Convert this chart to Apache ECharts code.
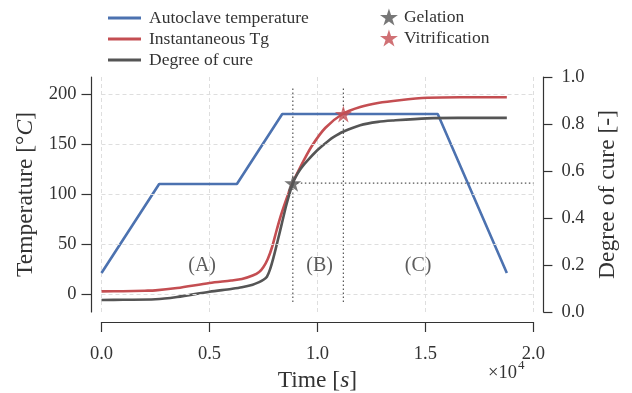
<!DOCTYPE html>
<html>
<head>
<meta charset="utf-8">
<script src="https://cdn.jsdelivr.net/npm/echarts@6/dist/echarts.min.js"></script>
<style>html,body{margin:0;padding:0;background:#fff}#c{width:632px;height:393px}</style>
</head>
<body>
<div id="c"></div>
<script>
// ---- data ----
const timeAutoclave = [0, 2670, 6270, 8370, 15570, 18770];
const tempAutoclave = [21, 110, 110, 180, 180, 21];

const timeTg = [0, 1000, 2000, 2500, 3500, 5000, 6000, 6500, 7000, 7300, 7500, 7700, 7900, 8100, 8300, 8500, 8700, 8860, 9000, 9350, 9770, 10360, 11160, 11980, 12800, 13800, 15100, 16600, 18770];
const tgValues = [2.6, 2.8, 3.3, 3.6, 6, 11, 13.5, 15, 18.5, 22, 27, 35, 47, 63, 78, 91, 103, 111.6, 118, 133, 149, 166, 180, 187, 191, 193.8, 196.2, 196.8, 196.8];

const timeCure = [0, 1000, 2500, 3500, 5000, 6000, 6500, 7000, 7300, 7500, 7660, 7800, 7960, 8150, 8350, 8550, 8700, 8860, 9000, 9200, 9400, 9620, 9900, 10200, 10500, 10740, 11160, 11980, 12800, 13520, 15070, 16500, 18770];
const cureValues = [0.051, 0.052, 0.054, 0.064, 0.086, 0.098, 0.105, 0.116, 0.127, 0.137, 0.15, 0.18, 0.23, 0.30, 0.376, 0.452, 0.502, 0.548, 0.576, 0.606, 0.63, 0.653, 0.68, 0.705, 0.728, 0.744, 0.766, 0.795, 0.809, 0.815, 0.824, 0.826, 0.826];

const gelation = [8860, 0.548];      // time, degree of cure
const vitrification = [11200, 180];  // time, temperature
const regionLabels = ['(A)', '(B)', '(C)'];
const regionTimes = [4660, 10100, 14660];
const regionTemp = 28;

const tempTicks = [0, 50, 100, 150, 200];
const tempMin = -18, tempMax = 217;
const phaseLineTemp = [-8, 207];
const timeEnd = 20000;

// ---- chart ----
const FONT = "'Liberation Serif','DejaVu Serif',serif";
const TXT = '#333333';
const zip = (a, b) => a.map((v, i) => [v, b[i]]);
const STAR = 'path://M50,0 L61.2,34.5 L97.6,34.5 L68.2,55.9 L79.4,90.5 L50,69.1 L20.6,90.5 L31.8,55.9 L2.4,34.5 L38.8,34.5 Z';
const dotted = {color: '#555', width: 1.2, type: [1.5, 2.5]};
const TICKFS = 18.5, NAMEFS = 23.5;

const chart = echarts.init(document.getElementById('c'), null, {renderer: 'canvas'});
chart.setOption({
  animation: false,
  textStyle: {fontFamily: FONT},
  grid: {left: 101.5, right: 98.6, top: 77, bottom: 81, containLabel: false, outerBoundsMode: 'none'},
  legend: [
    {
      data: ['Autoclave temperature', 'Instantaneous Tg', 'Degree of cure'],
      orient: 'vertical', left: 103, top: 4,
      icon: 'rect', itemWidth: 33, itemHeight: 3, itemGap: 3,
      textStyle: {fontFamily: FONT, fontSize: 17.5, color: TXT, lineHeight: 16, padding: [0, 0, 0, 3]}
    },
    {
      data: ['Gelation', 'Vitrification'],
      orient: 'vertical', left: 375, top: 3,
      itemWidth: 18, itemHeight: 17, itemGap: 3,
      textStyle: {fontFamily: FONT, fontSize: 17.5, color: TXT, lineHeight: 16, padding: [0, 0, 0, 1]}
    }
  ],
  xAxis: {
    type: 'value', min: 0, max: timeEnd, interval: 5000, offset: 10,
    axisLine: {onZero: false, lineStyle: {color: '#333', width: 1.2}},
    axisTick: {length: 10, lineStyle: {color: '#333', width: 1.2}},
    axisLabel: {fontFamily: FONT, fontSize: TICKFS, color: TXT, margin: 23,
      formatter: v => (v / 10000).toFixed(1)},
    splitLine: {show: true, lineStyle: {color: '#dedede', type: [4, 3], width: 1}},
    name: '{n|Time [}{i|s}{n|]}', nameLocation: 'middle', nameGap: 46,
    nameTextStyle: {rich: {
      n: {fontFamily: FONT, fontSize: NAMEFS, color: TXT},
      i: {fontFamily: FONT, fontSize: NAMEFS, color: TXT, fontStyle: 'italic'}
    }}
  },
  yAxis: [
    {
      type: 'value', min: tempMin, max: tempMax, offset: 10, position: 'left',
      axisLine: {onZero: false, lineStyle: {color: '#333', width: 1.2}},
      axisTick: {length: 10, customValues: tempTicks, lineStyle: {color: '#333', width: 1.2}},
      axisLabel: {customValues: tempTicks, fontFamily: FONT, fontSize: TICKFS, color: TXT, margin: 15},
      splitLine: {show: false},
      name: '{n|Temperature [°}{i|C}{n|]}', nameLocation: 'middle', nameRotate: 90, nameGap: 54,
      nameTextStyle: {rich: {
        n: {fontFamily: FONT, fontSize: NAMEFS, color: TXT},
        i: {fontFamily: FONT, fontSize: NAMEFS, color: TXT, fontStyle: 'italic'}
      }}
    },
    {
      type: 'value', min: 0, max: 1, interval: 0.2, offset: 10, position: 'right',
      axisLine: {onZero: false, lineStyle: {color: '#333', width: 1.2}},
      axisTick: {length: 9, lineStyle: {color: '#333', width: 1.2}},
      axisLabel: {fontFamily: FONT, fontSize: TICKFS, color: TXT, margin: 18, formatter: v => v.toFixed(1)},
      splitLine: {show: false},
      name: 'Degree of cure [-]', nameLocation: 'middle', nameRotate: 90, nameGap: 44,
      nameTextStyle: {fontFamily: FONT, fontSize: NAMEFS, color: TXT}
    }
  ],
  series: [
    {
      name: 'grid', type: 'line', data: [], z: 0, silent: true,
      markLine: {silent: true, symbol: 'none', label: {show: false},
        lineStyle: {color: '#dedede', type: [4, 3], width: 1},
        data: tempTicks.map(v => ({yAxis: v}))}
    },
    {
      name: 'Autoclave temperature', type: 'line', yAxisIndex: 0, z: 3,
      data: zip(timeAutoclave, tempAutoclave), showSymbol: false, symbol: 'none',
      lineStyle: {color: '#4C72B0', width: 2.6}, itemStyle: {color: '#4C72B0'}
    },
    {
      name: 'Instantaneous Tg', type: 'line', yAxisIndex: 0, z: 4,
      data: zip(timeTg, tgValues), showSymbol: false, symbol: 'none', smooth: 0.3,
      lineStyle: {color: '#C44E52', width: 2.6}, itemStyle: {color: '#C44E52'}
    },
    {
      name: 'Degree of cure', type: 'line', yAxisIndex: 1, z: 4,
      data: zip(timeCure, cureValues), showSymbol: false, symbol: 'none', smooth: 0.3,
      lineStyle: {color: '#555555', width: 2.6}, itemStyle: {color: '#555555'}
    },
    {
      name: 'gelLine', type: 'line', yAxisIndex: 0, z: 2, symbol: 'none', silent: true,
      data: [[gelation[0], phaseLineTemp[0]], [gelation[0], phaseLineTemp[1]]], lineStyle: dotted
    },
    {
      name: 'vitLine', type: 'line', yAxisIndex: 0, z: 2, symbol: 'none', silent: true,
      data: [[vitrification[0], phaseLineTemp[0]], [vitrification[0], phaseLineTemp[1]]], lineStyle: dotted
    },
    {
      name: 'gelHLine', type: 'line', yAxisIndex: 1, z: 2, symbol: 'none', silent: true,
      data: [[gelation[0], gelation[1]], [timeEnd, gelation[1]]], lineStyle: dotted
    },
    {
      name: 'Gelation', type: 'scatter', yAxisIndex: 1, z: 6,
      data: [gelation], symbol: STAR, symbolSize: 17, itemStyle: {color: '#555555'}
    },
    {
      name: 'Vitrification', type: 'scatter', yAxisIndex: 0, z: 6,
      data: [vitrification], symbol: STAR, symbolSize: 17, itemStyle: {color: '#C44E52'}
    },
    {
      name: 'regions', type: 'scatter', yAxisIndex: 0, z: 5, symbolSize: 0, silent: true,
      data: regionTimes.map((t, i) => ({value: [t, regionTemp], label: {formatter: regionLabels[i]}})),
      label: {show: true, position: 'inside', fontFamily: FONT, fontSize: 20, color: TXT}
    }
  ],
  graphic: [
    {type: 'text', left: 488, top: 364,
      style: {text: '×10', font: TICKFS + "px " + FONT, fill: TXT}},
    {type: 'text', left: 518, top: 359,
      style: {text: '4', font: "13px " + FONT, fill: TXT}}
  ]
});
</script>
</body>
</html>
